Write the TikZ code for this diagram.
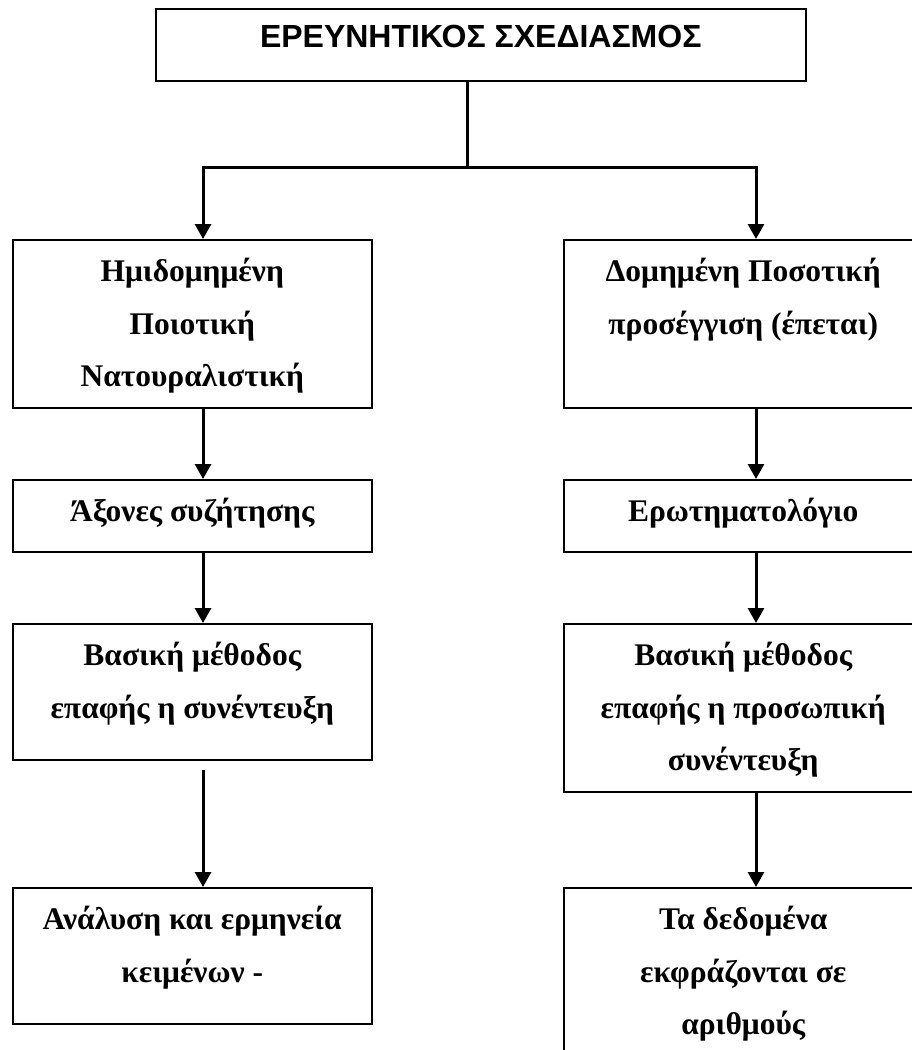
\documentclass[tikz,border=0pt]{standalone}
\usepackage{fontspec}
\setmainfont{Liberation Serif}
\newfontfamily\headfont{Liberation Sans}
\usetikzlibrary{arrows.meta}

\newcommand{\stagetext}[3]{\parbox[c][#1pt][t]{#2pt}{\centering\fontsize{31.5}{52.5}\selectfont\bfseries\rule{0pt}{42pt}#3}}

\begin{document}
\begin{tikzpicture}[x=1pt,y=-1pt,
    stagebox/.style={draw=black,line width=1.5pt,inner sep=0pt,anchor=north west},
    flow/.style={line width=3pt,-{Triangle[width=16pt,length=15pt]}},
    link/.style={line width=3pt}]
            \useasboundingbox (0,0) rectangle (912,1050);
            \clip (0,0) rectangle (912,1050);

            \node[stagebox] (title) at (155,8) {\parbox[c][72pt][t]{650pt}{\centering\headfont\fontsize{32}{38}\selectfont\bfseries\rule{0pt}{39pt}ΕΡΕΥΝΗΤΙΚΟΣ ΣΧΕΔΙΑΣΜΟΣ}};

            \node[stagebox] (L1) at (12,239) {\stagetext{168}{359}{Ημιδομημένη\\Ποιοτική\\Νατουραλιστική}};
            \node[stagebox] (L2) at (12,479) {\stagetext{72}{359}{Άξονες συζήτησης}};
            \node[stagebox] (L3) at (12,623) {\stagetext{136}{359}{Βασική μέθοδος\\επαφής η συνέντευξη}};
            \node[stagebox] (L4) at (12,887) {\stagetext{136}{359}{Ανάλυση και ερμηνεία\\κειμένων -}};

            \node[stagebox] (R1) at (563,239) {\stagetext{168}{359}{Δομημένη Ποσοτική\\προσέγγιση (έπεται)}};
            \node[stagebox] (R2) at (563,479) {\stagetext{72}{359}{Ερωτηματολόγιο}};
            \node[stagebox] (R3) at (563,623) {\stagetext{168}{359}{Βασική μέθοδος\\επαφής η προσωπική\\συνέντευξη}};
            \node[stagebox] (R4) at (563,887) {\stagetext{180}{359}{Τα δεδομένα\\εκφράζονται σε\\αριθμούς}};

            \coordinate (split) at (467,167);
            \coordinate (colL) at (203,0);
            \coordinate (colR) at (756,0);

            \draw[link] (title.south -| split) -- (split);
            \draw[flow] (split) -| (L1.north -| colL);
            \draw[flow] (split) -| (R1.north -| colR);

            \draw[flow] (L1.south -| colL) -- (L2.north -| colL);
            \draw[flow] (L2.south -| colL) -- (L3.north -| colL);
            \draw[flow] ([yshift=-9pt]L3.south -| colL) -- (L4.north -| colL);

            \draw[flow] (R1.south -| colR) -- (R2.north -| colR);
            \draw[flow] (R2.south -| colR) -- (R3.north -| colR);
            \draw[flow] (R3.south -| colR) -- (R4.north -| colR);
        \end{tikzpicture}
\end{document}
